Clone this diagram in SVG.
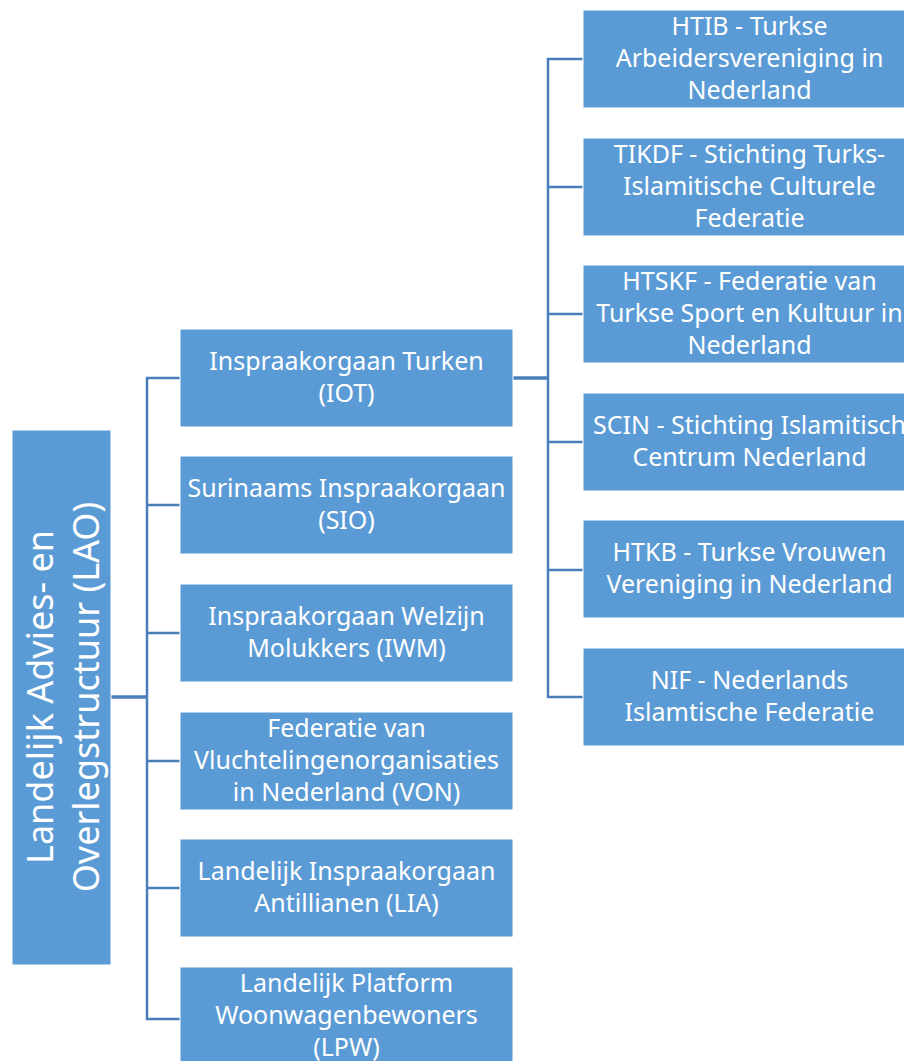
<svg xmlns="http://www.w3.org/2000/svg" width="904" height="1061" viewBox="0 0 904 1061">
<style>
.box{fill:#5B9BD5;stroke:#FFFFFF;stroke-width:1}
.t{font-family:"Noto Sans","Open Sans",sans-serif;font-size:25px;fill:#FFFFFF;text-anchor:middle}
.r{font-family:"Noto Sans","Open Sans",sans-serif;font-size:36px;fill:#FFFFFF;text-anchor:middle}
.c{fill:none;stroke:#4A7EBB;stroke-width:2.5}
.ck{fill:none;stroke:#4A7EBB;stroke-width:3.5}
</style>
<rect width="904" height="1061" fill="#FFFFFF"/>
<g id="connectors">
<line class="ck" x1="111" y1="697" x2="148" y2="697"/>
<path class="c" d="M180,378 H147 V1019 H180"/>
<line class="c" x1="147" y1="505" x2="180" y2="505"/>
<line class="c" x1="147" y1="633" x2="180" y2="633"/>
<line class="c" x1="147" y1="761" x2="180" y2="761"/>
<line class="c" x1="147" y1="888" x2="180" y2="888"/>
<line class="ck" x1="513" y1="378" x2="549" y2="378"/>
<path class="c" d="M583,59 H548 V697 H583"/>
<line class="c" x1="548" y1="187" x2="583" y2="187"/>
<line class="c" x1="548" y1="314" x2="583" y2="314"/>
<line class="c" x1="548" y1="442" x2="583" y2="442"/>
<line class="c" x1="548" y1="570" x2="583" y2="570"/>
</g>
<g id="root">
<rect class="box" x="12" y="430" width="99" height="535"/>
<g transform="translate(61.5,697) rotate(-90)">
<text class="r" x="0" y="-9">Landelijk Advies- en</text>
<text class="r" x="0" y="37">Overlegstructuur (LAO)</text>
</g>
</g>
<g id="iot">
<rect class="box" x="180" y="329" width="333" height="98"/>
<text class="t" x="346.5" y="370">Inspraakorgaan Turken</text>
<text class="t" x="346.5" y="402">(IOT)</text>
</g>
<g id="sio">
<rect class="box" x="180" y="456" width="333" height="98"/>
<text class="t" x="346.5" y="497">Surinaams Inspraakorgaan</text>
<text class="t" x="346.5" y="529">(SIO)</text>
</g>
<g id="iwm">
<rect class="box" x="180" y="584" width="333" height="98"/>
<text class="t" x="346.5" y="625">Inspraakorgaan Welzijn</text>
<text class="t" x="346.5" y="657">Molukkers (IWM)</text>
</g>
<g id="von">
<rect class="box" x="180" y="712" width="333" height="98"/>
<text class="t" x="346.5" y="737">Federatie van</text>
<text class="t" x="346.5" y="769">Vluchtelingenorganisaties</text>
<text class="t" x="346.5" y="801">in Nederland (VON)</text>
</g>
<g id="lia">
<rect class="box" x="180" y="839" width="333" height="98"/>
<text class="t" x="346.5" y="880">Landelijk Inspraakorgaan</text>
<text class="t" x="346.5" y="912">Antillianen (LIA)</text>
</g>
<g id="lpw">
<rect class="box" x="180" y="967" width="333" height="98"/>
<text class="t" x="346.5" y="992">Landelijk Platform</text>
<text class="t" x="346.5" y="1024">Woonwagenbewoners</text>
<text class="t" x="346.5" y="1056">(LPW)</text>
</g>
<g id="htib">
<rect class="box" x="583" y="10" width="333" height="98"/>
<text class="t" x="749.5" y="35">HTIB - Turkse</text>
<text class="t" x="749.5" y="67">Arbeidersvereniging in</text>
<text class="t" x="749.5" y="99">Nederland</text>
</g>
<g id="tikdf">
<rect class="box" x="583" y="138" width="333" height="98"/>
<text class="t" x="749.5" y="163">TIKDF - Stichting Turks-</text>
<text class="t" x="749.5" y="195">Islamitische Culturele</text>
<text class="t" x="749.5" y="227">Federatie</text>
</g>
<g id="htskf">
<rect class="box" x="583" y="265" width="333" height="98"/>
<text class="t" x="749.5" y="290">HTSKF - Federatie van</text>
<text class="t" x="749.5" y="322">Turkse Sport en Kultuur in</text>
<text class="t" x="749.5" y="354">Nederland</text>
</g>
<g id="scin">
<rect class="box" x="583" y="393" width="333" height="98"/>
<text class="t" x="749.5" y="434">SCIN - Stichting Islamitisch</text>
<text class="t" x="749.5" y="466">Centrum Nederland</text>
</g>
<g id="htkb">
<rect class="box" x="583" y="520" width="333" height="98"/>
<text class="t" x="749.5" y="561">HTKB - Turkse Vrouwen</text>
<text class="t" x="749.5" y="593">Vereniging in Nederland</text>
</g>
<g id="nif">
<rect class="box" x="583" y="648" width="333" height="98"/>
<text class="t" x="749.5" y="689">NIF - Nederlands</text>
<text class="t" x="749.5" y="721">Islamtische Federatie</text>
</g>
</svg>
